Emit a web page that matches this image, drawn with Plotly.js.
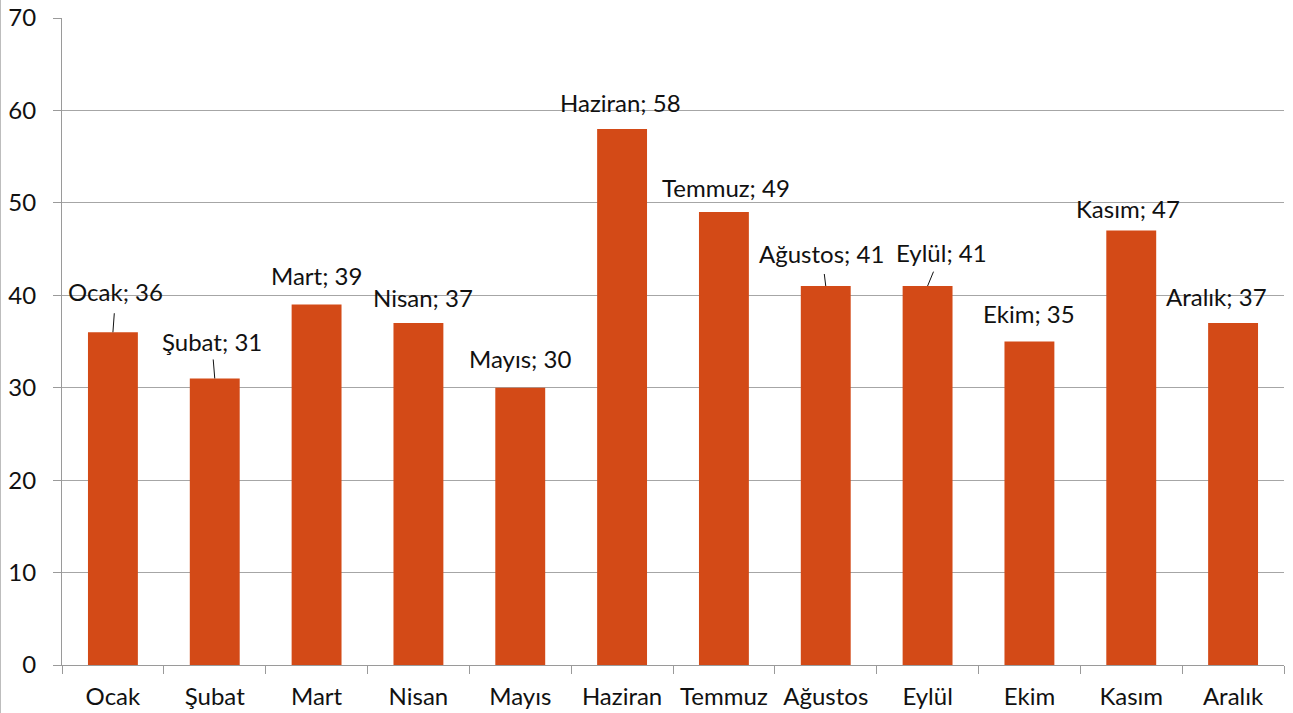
<!DOCTYPE html>
<html>
<head>
<meta charset="utf-8">
<script src="https://cdn.plot.ly/plotly-3.0.1.min.js"></script>
<style>
html,body{margin:0;padding:0;background:#fff;}
#chart{width:1292px;height:713px;border-left:1px solid #bdbdbd;}
</style>
</head>
<body>
<div id="chart"></div>
<script>
const months = ["Ocak","Şubat","Mart","Nisan","Mayıs","Haziran","Temmuz","Ağustos","Eylül","Ekim","Kasım","Aralık"];
const values = [36, 31, 39, 37, 30, 58, 49, 41, 41, 35, 47, 37];
const yTicks = [0, 10, 20, 30, 40, 50, 60, 70];

// label offsets in pixels (dx, dy, leader line?, leader start standoff) relative to bar top
const labelOffsets = [[3,-41,true,7],[-3,-37,true,3],[0,-29,false,0],[5,-26,false,0],[0,-29,false,0],[-2,-26,false,0],[2,-25,false,0],[-4,-33,true,6],[14,-34,true,5],[0,-28,false,0],[-3,-22,false,0],[-17,-27,false,0]];

const FONT = 'Lato, "Open Sans", sans-serif';

const annotations = months.map((m, i) => {
  const o = labelOffsets[i];
  const a = {
    x: m, y: values[i], xref: 'x', yref: 'y',
    text: m + '; ' + values[i],
    font: {family: FONT, size: 24, color: '#111'},
    showarrow: true,
    arrowhead: 0, arrowwidth: 1, arrowcolor: '#111',
    ax: o[0], ay: o[1],
    startstandoff: o[3],
    borderpad: 0,
    bgcolor: 'rgba(0,0,0,0)'
  };
  if (!o[2]) { a.arrowcolor = 'rgba(0,0,0,0)'; }
  return a;
});

const trace = {
  type: 'bar',
  x: months,
  y: values,
  marker: {color: '#D34A17'},
  hoverinfo: 'x+y'
};

const layout = {
  width: 1292, height: 713,
  margin: {l: 61, r: 9, t: 18, b: 48},
  paper_bgcolor: '#fff', plot_bgcolor: '#fff',
  bargap: 0.51,
  showlegend: false,
  font: {family: FONT, size: 24, color: '#111'},
  xaxis: {
    type: 'category',
    showline: true, linecolor: '#9a9a9a', linewidth: 1,
    ticks: 'outside', ticklen: 8, tickcolor: '#9a9a9a', tickson: 'boundaries',
    showgrid: false, zeroline: false,
    tickfont: {family: FONT, size: 24, color: '#111'},
    ticklabelstandoff: 10
  },
  yaxis: {
    range: [0, 70],
    tickvals: yTicks,
    showline: true, linecolor: '#9a9a9a', linewidth: 1,
    ticks: 'outside', ticklen: 8, tickcolor: '#9a9a9a',
    showgrid: true, gridcolor: '#a6a6a6', gridwidth: 1,
    zeroline: false,
    tickfont: {family: FONT, size: 24, color: '#111'},
    ticklabelstandoff: 12
  },
  annotations: annotations
};

Plotly.newPlot('chart', [trace], layout, {displayModeBar: false, staticPlot: true});
</script>
</body>
</html>
